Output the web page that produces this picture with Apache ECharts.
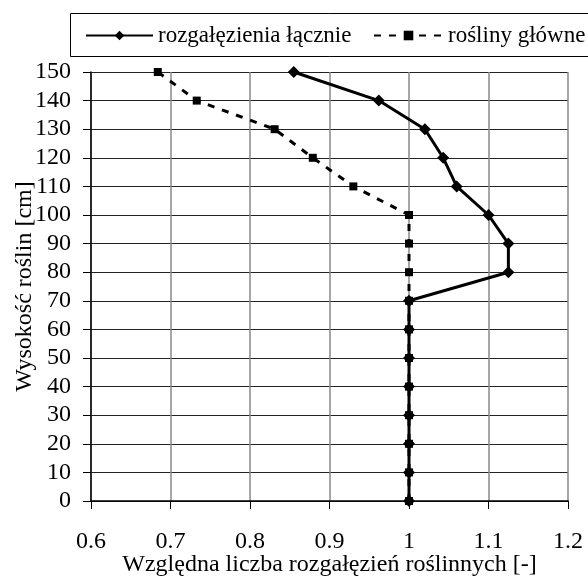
<!DOCTYPE html>
<html><head><meta charset="utf-8">
<script src="https://cdn.jsdelivr.net/npm/echarts@6/dist/echarts.min.js"></script>
<style>html,body{margin:0;padding:0;background:#fff}#c{width:588px;height:578px}</style>
</head><body><div id="c"></div>
<script>
var heights = [0,10,20,30,40,50,60,70,80,90,100,110,120,130,140,150];
var totalBranches = [1,1,1,1,1,1,1,1,1.125,1.125,1.1,1.06,1.043,1.02,0.962,0.855];
var mainPlants = [1,1,1,1,1,1,1,1,1,1,1.0,0.93,0.879,0.831,0.733,0.684];
var seriesNames = ['rozgałęzienia łącznie','rośliny główne'];
var xTitle = 'Względna liczba rozgałęzień roślinnych [-]';
var yTitle = 'Wysokość roślin [cm]';

function pairs(xs){ return heights.map(function(h,i){ return [xs[i], h]; }); }
var font = 'Liberation Serif';
var chart = echarts.init(document.getElementById('c'));
chart.setOption({
  animation:false,
  backgroundColor:'#fff',
  textStyle:{fontFamily:font},
  grid:{left:91,right:20,top:72,bottom:77,containLabel:false,outerBoundsMode:'none'},
  graphic:[{type:'rect',shape:{x:70.5,y:13.5,width:530,height:43},style:{fill:'none',stroke:'#000',lineWidth:1}}],
  legend:[
    {data:[seriesNames[0]],left:85,top:24,itemWidth:67,itemHeight:12,padding:0,
     textStyle:{fontFamily:font,fontSize:23,color:'#000'}},
    {data:[seriesNames[1]],left:373,top:24,itemWidth:69,itemHeight:12,padding:0,
     textStyle:{fontFamily:font,fontSize:23,color:'#000'}}
  ],
  xAxis:{type:'value',min:0.6,max:1.2,interval:0.1,
    name:xTitle,nameLocation:'middle',nameGap:52,nameMoveOverlap:false,
    nameTextStyle:{fontFamily:font,fontSize:24,color:'#000'},
    axisLine:{lineStyle:{color:'#000',width:1.5}},
    axisTick:{show:true,length:8,lineStyle:{color:'#000'}},
    axisLabel:{fontFamily:font,fontSize:24,color:'#000',margin:29},
    splitLine:{show:true,lineStyle:{color:'#888',width:1.5}}
  },
  yAxis:{type:'value',min:0,max:150,interval:10,
    name:yTitle,nameLocation:'middle',nameGap:54,nameMoveOverlap:false,
    nameTextStyle:{fontFamily:font,fontSize:24,color:'#000'},
    axisLine:{lineStyle:{color:'#000',width:1.5}},
    axisTick:{show:true,length:8,inside:false,lineStyle:{color:'#000'}},
    axisLabel:{fontFamily:font,fontSize:24,color:'#000',margin:20},
    splitLine:{show:true,lineStyle:{color:'#222',width:1.2}}
  },
  series:[
    {name:seriesNames[1],type:'line',data:pairs(mainPlants),symbol:'rect',symbolSize:8,
     itemStyle:{color:'#000'},lineStyle:{color:'#000',width:3,type:[7,8]},z:2},
    {name:seriesNames[0],type:'line',data:pairs(totalBranches),symbol:'diamond',symbolSize:12,
     itemStyle:{color:'#000'},lineStyle:{color:'#000',width:3,type:'solid'},z:3}
  ]
});
</script></body></html>
